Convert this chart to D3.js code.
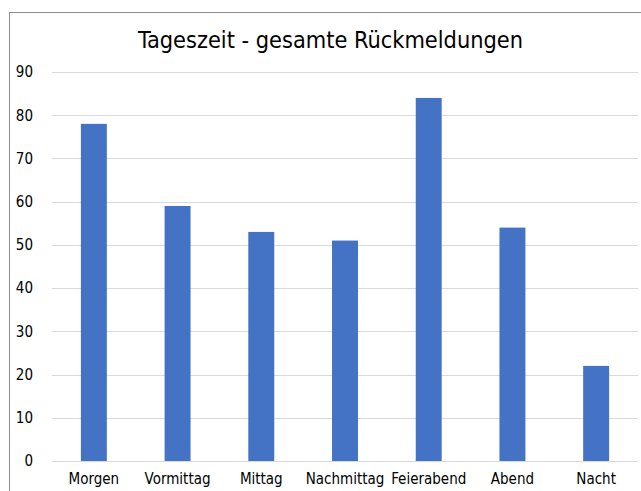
<!DOCTYPE html>
<html><head><meta charset="utf-8">
<script src="https://cdn.jsdelivr.net/npm/d3@7"></script>
<style>body{margin:0;background:#fff;} svg{display:block;}</style>
</head><body>
<svg id="chart" width="641" height="491"></svg>
<script>
const categories = ["Morgen","Vormittag","Mittag","Nachmittag","Feierabend","Abend","Nacht"];
const values = [78,59,53,51,84,54,22];
const yTicks = [0,10,20,30,40,50,60,70,80,90];
const title = "Tageszeit - gesamte Rückmeldungen";

const svg = d3.select("#chart");
const font = "'DejaVu Sans Condensed', 'DejaVu Sans', sans-serif";
svg.append("rect").attr("x",0).attr("y",0).attr("width",641).attr("height",491).attr("fill","#fff");
svg.append("rect").attr("x",9.5).attr("y",12.5).attr("width",700).attr("height",600)
  .attr("fill","none").attr("stroke","#8c8c8c").attr("stroke-width",1);

const x = d3.scaleBand().domain(categories).range([52,638]).paddingInner(0.69).paddingOuter(0.345);
const y = d3.scaleLinear().domain([0,90]).range([461,72]);

const grid = svg.append("g");
grid.selectAll("line").data(yTicks).join("line")
  .attr("x1",52).attr("x2",638)
  .attr("y1",d=>Math.round(y(d))+0.5).attr("y2",d=>Math.round(y(d))+0.5)
  .attr("stroke","#d9d9d9").attr("stroke-width",1);

const yAxis = svg.append("g").attr("transform","translate(52,0)")
  .call(d3.axisLeft(y).tickValues(yTicks).tickSize(0).tickPadding(19));
yAxis.select(".domain").remove();
yAxis.selectAll("text").attr("font-family",font).attr("font-stretch","condensed").attr("font-size",15).attr("fill","#000");

svg.append("g").selectAll("rect").data(values).join("rect")
  .attr("x",(d,i)=>x(categories[i]))
  .attr("width",x.bandwidth())
  .attr("y",d=>y(d))
  .attr("height",d=>y(0)-y(d))
  .attr("fill","#4472c4");

const xAxis = svg.append("g").attr("transform","translate(0,461)")
  .call(d3.axisBottom(x).tickSize(0).tickPadding(12));
xAxis.select(".domain").remove();
xAxis.selectAll("text").attr("font-family",font).attr("font-stretch","condensed").attr("font-size",15).attr("fill","#000");

svg.append("text").attr("x",330.5).attr("y",48).attr("text-anchor","middle")
  .attr("font-family",font).attr("font-stretch","condensed").attr("font-size",23).attr("fill","#000")
  .attr("textLength",385).attr("lengthAdjust","spacingAndGlyphs").text(title);
</script>
</body></html>
